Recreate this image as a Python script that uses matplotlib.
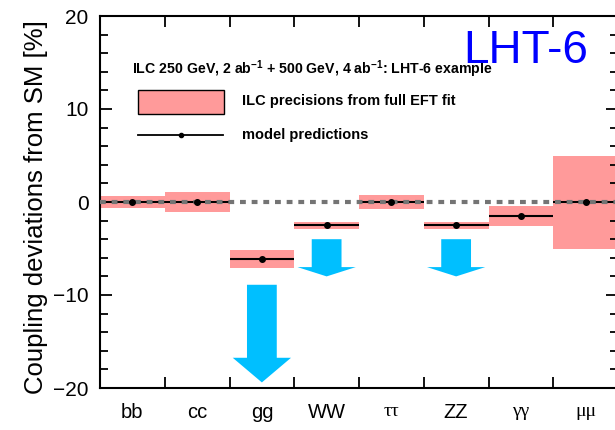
import numpy as np
import matplotlib
matplotlib.use("Agg")
import matplotlib.pyplot as plt
from matplotlib.patches import Rectangle, FancyArrow

# Higgs coupling channels and LHT-6 model predictions (% deviation from SM)
channels = ["bb", "cc", "gg", "WW", "ττ", "ZZ", "γγ", "μμ"]
model_pred = [0.0, 0.0, -6.1, -2.5, 0.0, -2.5, -1.5, 0.0]
# ILC projected precision (half-width of the band, %)
ilc_precision = [0.6, 1.1, 0.95, 0.4, 0.8, 0.4, 1.1, 5.0]

# Arrows indicating the size of the shift for selected channels
arrow_channels = ["gg", "WW", "ZZ"]
arrow_start = [-8.9, -4.0, -4.0]
arrow_end = [-19.4, -8.0, -8.0]
arrow_head = [2.65, 1.0, 1.0]

y_ticks = [-20, -10, 0, 10, 20]

plt.rcParams["font.family"] = ["Liberation Sans", "DejaVu Sans"]
greek_font = ["Liberation Serif", "DejaVu Serif"]

pink = "#ff9a9a"
cyan = "#00bfff"

fig = plt.figure(figsize=(6.15, 4.30), dpi=100)
ax = fig.add_axes([100 / 615, 1 - 388 / 430, 518 / 615, 372 / 430])

ax.set_xlim(0, len(channels))
ax.set_ylim(-20, 20)

# precision bands
for i, (v, e) in enumerate(zip(model_pred, ilc_precision)):
    ax.add_patch(Rectangle((i, v - e), 1, 2 * e, facecolor=pink,
                           edgecolor="none", zorder=1))

# model predictions
for i, v in enumerate(model_pred):
    ax.plot([i, i + 1], [v, v], color="black", lw=1.5, zorder=3,
            solid_capstyle="butt")

# SM reference line
ax.axhline(0, color="#747474", lw=3.0, linestyle=(0, (1.4, 1.4)),
           dash_capstyle="butt", zorder=4)

ax.plot(np.arange(len(channels)) + 0.5, model_pred, "o", color="black",
        ms=4, zorder=5)

# arrows
for ch, y0, y1, hl in zip(arrow_channels, arrow_start, arrow_end, arrow_head):
    xc = channels.index(ch) + 0.5
    ax.add_patch(FancyArrow(xc, y0, 0, y1 - y0, width=0.46, head_width=0.9,
                            head_length=hl, length_includes_head=True,
                            color=cyan, lw=0, zorder=6))

# axes styling
for sp in ax.spines.values():
    sp.set_linewidth(1.5)

ax.set_yticks(y_ticks)
ax.set_yticks(np.arange(-20, 21, 2), minor=True)
ax.set_yticklabels([f"{t:d}".replace("-", "\u2212") for t in y_ticks])
ax.tick_params(axis="y", which="major", direction="in", length=8.6,
               width=1.3, left=True, right=True, labelsize=15, pad=8.2)
ax.tick_params(axis="y", which="minor", direction="in", length=5.8,
               width=1.3, left=True, right=True)

ax.set_xticks(np.arange(len(channels) + 1))
ax.set_xticklabels([])
ax.set_xticks(np.arange(len(channels)) + 0.5, minor=True)
ax.set_xticklabels(channels, minor=True)
ax.tick_params(axis="x", which="major", direction="in", length=8,
               width=1.3, top=True, bottom=True)
ax.tick_params(axis="x", which="minor", length=0, labelsize=14.5, pad=11)
for lab in ax.get_xticklabels(minor=True):
    if not lab.get_text().isascii():
        lab.set_family(greek_font)
        lab.set_fontsize(14)

ax.set_ylabel("Coupling deviations from SM [%]", fontsize=18.5)
ax.yaxis.set_label_coords(-0.1, 0.487)

# header and legend
ax.text(0.062, 0.856, "ILC 250 GeV, 2 ab$^{\\mathregular{-1}}$ + 500 GeV, 4 ab$^{\\mathregular{-1}}$: LHT-6 example",
        transform=ax.transAxes, fontsize=10.2, fontweight="bold",
        va="center", ha="left", zorder=7)
ax.add_patch(Rectangle((0.073, 0.737), 0.166, 0.064, transform=ax.transAxes,
                       facecolor=pink, edgecolor="black", lw=1.0, zorder=7))
ax.text(0.274, 0.771, "ILC precisions from full EFT fit", transform=ax.transAxes,
        fontsize=10.5, fontweight="bold", va="center", ha="left")
ax.plot([0.073, 0.237], [0.68, 0.68], color="black", lw=1.3,
        transform=ax.transAxes, zorder=7)
ax.plot([0.156], [0.68], "o", color="black", ms=3, transform=ax.transAxes,
        zorder=7)
ax.text(0.274, 0.68, "model predictions", transform=ax.transAxes,
        fontsize=10.5, fontweight="bold", va="center", ha="left")

ax.text(0.942, 0.873, "LHT-6", transform=ax.transAxes, fontsize=33,
        color="#0000ff", ha="right", va="baseline", zorder=8)

fig.savefig("out.png", dpi=100)
